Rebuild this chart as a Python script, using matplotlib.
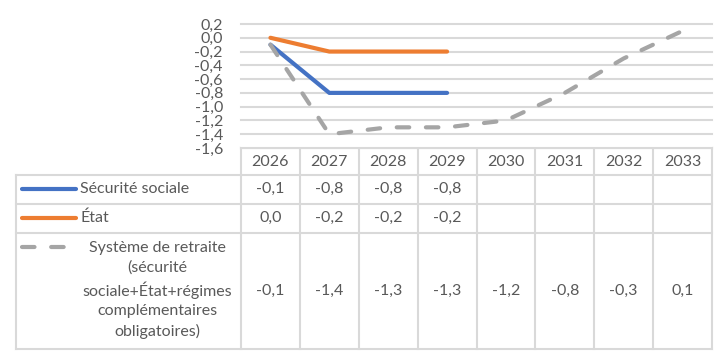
import numpy as np
import matplotlib
matplotlib.use("Agg")
import matplotlib.pyplot as plt

# data
years = ["2026", "2027", "2028", "2029", "2030", "2031", "2032", "2033"]
secu = [-0.1, -0.8, -0.8, -0.8]
etat = [0.0, -0.2, -0.2, -0.2]
retraite = [-0.1, -1.4, -1.3, -1.3, -1.2, -0.8, -0.3, 0.1]
labels = ["Sécurité sociale", "État",
          "Système de retraite\n(sécurité\nsociale+État+régimes\ncomplémentaires\nobligatoires)"]
yticks = [0.2, 0.0, -0.2, -0.4, -0.6, -0.8, -1.0, -1.2, -1.4, -1.6]

blue, orange, gray = "#4472C4", "#ED7D31", "#A5A5A5"
txt = "#595959"
grid = "#D9D9D9"
plt.rcParams["font.family"] = ["Lato", "DejaVu Sans"]
fs = 11.5

W, H = 718, 355
fig = plt.figure(figsize=(W / 100, H / 100), dpi=100)

# layout in pixels
x0, x1 = 241, 712
cw = (x1 - x0) / len(years)
y_top, y_bot = 24, 148          # 0.2 and -1.6
rows = [148, 175, 203.5, 232.5, 349]
leg_left = 16

def fx(px):
    return px / W

def fy(py):
    return 1 - py / H

# background axes in pixel coordinates for the data table
bg = fig.add_axes([0, 0, 1, 1])
bg.set_xlim(0, W)
bg.set_ylim(H, 0)
bg.axis("off")

# plot axes
ax = fig.add_axes([fx(x0), fy(y_bot), fx(x1) - fx(x0), fy(y_top) - fy(y_bot)])
ax.set_xlim(-0.5, len(years) - 0.5)
ax.set_ylim(-1.6, 0.2)
for s in ax.spines.values():
    s.set_visible(False)
ax.set_xticks([])
ax.set_yticks(yticks)
ax.set_yticklabels([f"{v:.1f}".replace(".", ",") for v in yticks], color=txt, fontsize=fs)
ax.tick_params(axis="y", length=0, pad=13)
for v in yticks:
    ax.axhline(v, color=grid, lw=1.5, zorder=0, clip_on=False)

lw = 3.0
dash = (3, 4)
ax.plot(range(len(secu)), secu, color=blue, lw=lw, solid_capstyle="round", clip_on=False)
ax.plot(range(len(etat)), etat, color=orange, lw=lw, solid_capstyle="round", clip_on=False)
ax.plot(range(len(retraite)), retraite, color=gray, lw=lw, dashes=dash,
        dash_capstyle="round", clip_on=False)

# table grid
for y in rows[1:]:
    bg.plot([leg_left, x1], [y, y], color=grid, lw=1.5)
bg.plot([x0, x1], [rows[0], rows[0]], color=grid, lw=1.5)
for i in range(len(years) + 1):
    bg.plot([x0 + i * cw, x0 + i * cw], [rows[0], rows[-1]], color=grid, lw=1.5)
bg.plot([leg_left, leg_left], [rows[1], rows[-1]], color=grid, lw=1.5)

# header
for i, yr in enumerate(years):
    bg.text(x0 + cw * (i + 0.5), (rows[0] + rows[1]) / 2, yr, ha="center", va="center",
            color=txt, fontsize=fs)

# rows
series = [secu, etat, retraite]
colors = [blue, orange, gray]
for r, (vals, lab, c) in enumerate(zip(series, labels, colors)):
    yc = (rows[r + 1] + rows[r + 2]) / 2
    for i, v in enumerate(vals):
        bg.text(x0 + cw * (i + 0.5), yc, f"{v:.1f}".replace(".", ","), ha="center",
                va="center", color=txt, fontsize=fs)
    if r < 2:
        bg.plot([22, 76], [yc, yc], color=c, lw=lw, solid_capstyle="round")
        bg.text(80, yc, lab, ha="left", va="center", color=txt, fontsize=fs)
    else:
        bg.plot([22, 72], [247, 247], color=c, lw=lw, dashes=dash,
                dash_capstyle="round")
        bg.text(157, yc - 0.5, lab, ha="center", va="center", color=txt, fontsize=fs,
                linespacing=1.47)

fig.savefig("out.png", dpi=100)
